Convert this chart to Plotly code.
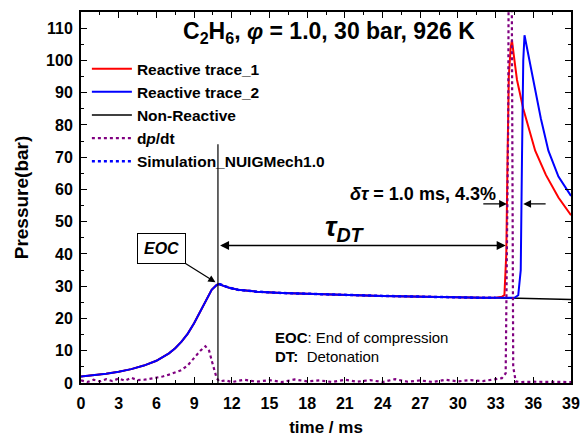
import plotly.graph_objects as go

# ---------------- data ----------------
# common compression / post-compression pressure history (bar)
t_base = [0, 1, 2, 3, 4, 5, 6, 7, 7.5, 8, 8.5, 9, 9.5, 10, 10.4, 10.8, 11.0, 11.3,
          11.8, 12.5, 14, 16, 18, 20, 22, 24, 26, 28, 30, 32, 33]
p_base = [2.0, 2.4, 2.9, 3.5, 4.3, 5.4, 6.9, 9.2, 10.8, 12.8, 15.3, 18.5, 22.3, 26.3,
          28.9, 30.4, 30.7, 30.2, 29.5, 28.9, 28.3, 27.9, 27.6, 27.4, 27.2, 27.0,
          26.8, 26.6, 26.5, 26.4, 26.4]

# reactive trace 1 after 33 ms
t_r1_tail = [33.5, 33.7, 33.85, 33.95, 34.05, 34.2, 34.3, 34.5, 34.7, 35.2, 35.7, 36.15, 37, 38, 39]
p_r1_tail = [26.7, 27.3, 40, 70, 95, 104, 106.2, 100, 94, 85, 78, 72, 64.5, 57.5, 52]

# reactive trace 2 after 33 ms
t_r2_tail = [34.0, 34.5, 34.8, 35.0, 35.1, 35.2, 35.3, 35.6, 36.0, 36.6, 37.2, 38, 39]
p_r2_tail = [26.3, 26.4, 27.2, 35, 70, 100, 107.8, 102, 94, 82, 72, 64, 58]

# non-reactive after 33 ms
t_nr_tail = [35, 37, 39]
p_nr_tail = [26.2, 26.0, 25.9]

# simulation (NUIGMech1.0) - follows the measured post-EOC plateau
t_sim = [11.0, 11.3, 11.8, 12.5, 14, 16, 18, 20, 22, 24, 26, 28, 30, 32, 33]
p_sim = [30.7, 30.2, 29.5, 28.9, 28.3, 27.9, 27.6, 27.4, 27.2, 27.0, 26.8, 26.6, 26.5, 26.4, 26.4]

# dp/dt (scaled)
t_dp = [0, 0.5, 1, 1.5, 2, 2.5, 3, 3.5, 4, 4.5, 5, 5.5, 6, 6.5, 7, 7.5, 8, 8.5, 9,
        9.5, 9.9, 10.2, 10.4, 10.6, 10.8, 11, 11.5, 12, 13, 14, 15, 16, 17, 18, 19,
        20, 21, 22, 23, 24, 25, 26, 27, 28, 29, 30, 31, 32, 33, 33.5, 33.8, 34.0,
        34.15, 34.3, 34.4, 34.6, 35, 36, 37, 38, 39]
v_dp = [0.8, 0.3, 1.0, 0.5, 1.2, 0.6, 1.4, 0.7, 1.6, 0.9, 1.0, 1.3, 1.6, 2.0, 2.6,
        3.2, 4.0, 5.5, 7.8, 10.0, 11.4, 10.0, 7.0, 4.0, 1.5, 0.5, 0.8, 0.3, 1.0, 0.4,
        0.9, 0.3, 1.1, 0.5, 0.8, 0.3, 1.0, 0.4, 0.9, 0.3, 1.2, 0.4, 0.8, 0.3, 1.0,
        0.5, 0.9, 0.6, 1.2, 1.5, 3, 80, 260, 80, 5, 0.5, 0.3, 0.4, 0.3, 0.3, 0.3]

x_ticks = list(range(0, 40, 3))
y_ticks = list(range(0, 111, 10))

# ---------------- figure ----------------
FONT = "Liberation Sans, Arial, sans-serif"

t_r1 = t_base + t_r1_tail
p_r1 = p_base + p_r1_tail
t_r2 = t_base + t_r2_tail
p_r2 = p_base + p_r2_tail
t_nr = t_base + t_nr_tail
p_nr = p_base + p_nr_tail

fig = go.Figure()
fig.add_trace(go.Scatter(x=t_nr, y=p_nr, mode="lines", name="<b>Non-Reactive</b>",
                         line=dict(color="black", width=1.5), legendrank=3))
fig.add_trace(go.Scatter(x=t_r1, y=p_r1, mode="lines", name="<b>Reactive trace_1</b>",
                         line=dict(color="#ff0000", width=2), legendrank=1))
fig.add_trace(go.Scatter(x=t_r2, y=p_r2, mode="lines", name="<b>Reactive trace_2</b>",
                         line=dict(color="#0000ff", width=2), legendrank=2))
fig.add_trace(go.Scatter(x=t_dp, y=v_dp, mode="lines", name="<b>d<i>p</i>/dt</b>",
                         line=dict(color="#800080", width=2.2, dash="dot"), legendrank=4))
fig.add_trace(go.Scatter(x=t_sim, y=p_sim, mode="lines", name="<b>Simulation_NUIGMech1.0</b>",
                         line=dict(color="#0000ff", width=2.5, dash="dot"), legendrank=5))

# vertical EOC line
fig.add_shape(type="line", x0=10.9, x1=10.9, y0=0, y1=74, xref="x", yref="y",
              line=dict(color="black", width=1.2))

annotations = [
    dict(x=19.75, y=108.8, text="<b>C<sub>2</sub>H<sub>6</sub>, <i>φ</i> = 1.0, 30 bar, 926 K</b>",
         showarrow=False, font=dict(size=23, color="black", family=FONT)),
    # tau_DT double arrow
    dict(x=33.8, y=42.6, ax=10.95, ay=42.6, axref="x", ayref="y", xref="x", yref="y",
         text="", showarrow=True, arrowhead=2, arrowside="end+start", arrowsize=1.2,
         arrowwidth=1.5, arrowcolor="black"),
    dict(x=21.0, y=47.8, text="<b><i>τ<sub>DT</sub></i></b>", showarrow=False,
         font=dict(size=28, color="black", family=FONT)),
    dict(x=27.2, y=58.5, text="<b><i>δτ</i> = 1.0 ms, 4.3%</b>", showarrow=False,
         font=dict(size=18, color="black", family=FONT)),
    # delta tau arrows
    dict(x=33.9, y=55.5, ax=31.9, ay=55.5, axref="x", ayref="y", xref="x", yref="y",
         text="", showarrow=True, arrowhead=2, arrowsize=1.2, arrowwidth=1.3, arrowcolor="black"),
    dict(x=35.2, y=55.5, ax=37.1, ay=55.5, axref="x", ayref="y", xref="x", yref="y",
         text="", showarrow=True, arrowhead=2, arrowsize=1.2, arrowwidth=1.3, arrowcolor="black"),
    # EOC box
    dict(x=10.7, y=31.2, ax=6.4, ay=41.8, axref="x", ayref="y", xref="x", yref="y",
         text="<b><i>EOC</i></b>", showarrow=True, arrowhead=2, arrowsize=1.2,
         arrowwidth=1.2, arrowcolor="black", bordercolor="black", borderwidth=1,
         borderpad=6, bgcolor="white", font=dict(size=16, color="black", family=FONT)),
    dict(x=15.3, y=14.2, xanchor="left", text="<b>EOC</b>: End of compression",
         showarrow=False, font=dict(size=15, color="black", family=FONT)),
    dict(x=15.3, y=8.3, xanchor="left", text="<b>DT:</b>  Detonation",
         showarrow=False, font=dict(size=15, color="black", family=FONT)),
]

fig.update_layout(
    width=581, height=437,
    margin=dict(l=81, r=10, t=12, b=54),
    paper_bgcolor="white", plot_bgcolor="white",
    font=dict(family=FONT, color="black", size=16),
    showlegend=True,
    legend=dict(x=0.012, y=0.892, xanchor="left", yanchor="top",
                bgcolor="rgba(0,0,0,0)", borderwidth=0, itemwidth=40,
                font=dict(size=15.5, family=FONT, color="black"),
                tracegroupgap=0),
    annotations=annotations,
)

fig.update_xaxes(
    range=[0, 39], tickvals=x_ticks, ticktext=[f"<b>{v}</b>" for v in x_ticks],
    ticks="inside", ticklen=6, tickwidth=1.2, tickcolor="black",
    minor=dict(dtick=1.5, ticks="inside", ticklen=3, tickcolor="black", tick0=0),
    showline=True, linecolor="black", linewidth=2, mirror="ticks",
    showgrid=False, zeroline=False, ticklabelstandoff=5, automargin=False,
    title=dict(text="<b>time / ms</b>", font=dict(size=17, family=FONT), standoff=10),
    tickfont=dict(size=16, family=FONT),
)
fig.update_yaxes(
    range=[0, 115], tickvals=y_ticks, ticktext=[f"<b>{v}</b>" for v in y_ticks],
    ticks="inside", ticklen=6, tickwidth=1.2, tickcolor="black",
    minor=dict(dtick=5, ticks="inside", ticklen=3, tickcolor="black", tick0=0),
    showline=True, linecolor="black", linewidth=2, mirror="ticks",
    showgrid=False, zeroline=False, ticklabelstandoff=3, automargin=False,
    title=dict(text="<b>Pressure(bar)</b>", font=dict(size=19, family=FONT), standoff=12),
    tickfont=dict(size=16, family=FONT),
)

fig.write_html("out.html")
